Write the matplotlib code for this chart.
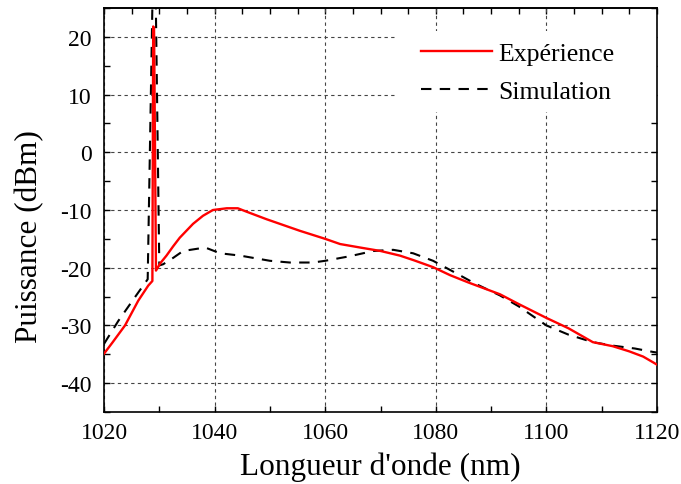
import matplotlib
matplotlib.use("Agg")
import matplotlib.pyplot as plt
from matplotlib.ticker import MultipleLocator
from matplotlib.patches import Rectangle

plt.rcParams['font.family'] = ['Liberation Serif', 'DejaVu Serif']
plt.rcParams['axes.unicode_minus'] = False

# Experimental spectrum (nm, dBm)
exp_wl = [1020, 1021.5, 1023.8, 1026.2, 1028.0, 1028.75, 1028.9, 1029.05, 1029.4,
          1030.2, 1031.3, 1032.5, 1033.7, 1036.1, 1037.9, 1039.7, 1042.2, 1044.2,
          1045.8, 1049.4, 1055.4, 1060.0, 1062.7, 1066.3, 1070.0, 1073.5, 1076.0,
          1079.5, 1082.6, 1086.0, 1091.6, 1095.0, 1100.0, 1104.0, 1108.4, 1112.0,
          1115.0, 1117.5, 1119.3, 1120]
exp_db = [-34.9, -33.0, -30.0, -25.7, -23.1, -22.3, 21.8, 21.5, -20.5,
          -19.2, -17.9, -16.3, -14.8, -12.4, -11.0, -10.0, -9.7, -9.7,
          -10.3, -11.6, -13.6, -15.0, -15.9, -16.5, -17.1, -17.9, -18.7,
          -19.9, -21.3, -22.6, -24.6, -26.3, -28.7, -30.5, -32.9, -33.6,
          -34.5, -35.4, -36.4, -36.8]

# Simulated spectrum (nm, dBm)
sim_wl = [1020, 1022.6, 1025.6, 1027.9, 1029.1, 1030.0, 1030.7, 1032.5,
          1034.3, 1038.3, 1041.0, 1044.6, 1046.4, 1050.0, 1053.6, 1057.8, 1060.0,
          1064.5, 1068.7, 1072.3, 1075.9, 1079.5, 1083.0, 1087.0, 1091.6, 1095.0,
          1100.0, 1104.0, 1108.4, 1112.0, 1116.0, 1119.3, 1120]
sim_db = [-33.2, -29.2, -25.1, -22.0, 45.0, -19.6, -19.4, -18.3,
          -17.1, -16.5, -17.5, -17.9, -18.2, -18.8, -19.1, -19.1, -18.8,
          -18.0, -17.1, -16.9, -17.5, -18.8, -20.6, -22.7, -24.8, -26.7,
          -30.0, -31.6, -32.9, -33.5, -34.0, -34.6, -34.7]

x_ticks = [1020, 1040, 1060, 1080, 1100, 1120]
y_ticks = [-40, -30, -20, -10, 0, 10, 20]

W, H = 681, 485
L, R, T, B = 104, 657, 9, 413
fig = plt.figure(figsize=(W/100, H/100), dpi=100)
ax = fig.add_axes([L/W, 1-B/H, (R-L)/W, (B-T)/H])

ax.plot(exp_wl, exp_db, color='#ff0000', lw=1.7, label='Expérience', zorder=3)
ax.plot(sim_wl, sim_db, color='black', lw=1.5, ls=(0, (5, 4)), label='Simulation', zorder=2)

ax.set_xlim(1020, 1120)
ax.set_ylim(-45, 25)
ax.set_xticks(x_ticks)
ax.set_yticks(y_ticks)
ax.xaxis.set_minor_locator(MultipleLocator(10))
ax.yaxis.set_minor_locator(MultipleLocator(5))
ax.grid(True, which='major', color='#444444', ls=(0, (3, 3)), lw=0.8)

ax.tick_params(axis='both', which='both', direction='in', length=4, width=1,
               labelsize=17, top=False, right=True, left=True, bottom=True)
ax.tick_params(axis='x', pad=7)
ax.tick_params(axis='y', pad=9)

secx = ax.secondary_xaxis('top')
secx.xaxis.set_major_locator(MultipleLocator(5))
secx.tick_params(direction='in', length=4, width=1, labeltop=False)
secx.spines['top'].set_linewidth(1.2)

for s in ax.spines.values():
    s.set_linewidth(1.2)

ax.set_xlabel("Longueur d'onde (nm)", fontsize=22.5, labelpad=6)
ax.set_ylabel("Puissance (dBm)", fontsize=22.5)
ax.yaxis.set_label_coords(-0.108, 1 - (237 - T) / (B - T))

# white area behind the legend (hides the grid there)
ax.add_patch(Rectangle(((395 - L) / (R - L), 1 - (113 - T) / (B - T)),
                       (R - 395) / (R - L), (113 - 32) / (B - T),
                       transform=ax.transAxes, facecolor='white',
                       edgecolor='none', zorder=1.8))

leg = ax.legend(loc='upper left', bbox_to_anchor=((421 - L) / (R - L), 1 - (43 - T) / (B - T)),
                fontsize=18.5, frameon=False, handlelength=2.75, handletextpad=0.25,
                labelspacing=0.6, borderpad=0.0, borderaxespad=0.0)
leg.set_zorder(5)

fig.savefig('out.png', dpi=100)
